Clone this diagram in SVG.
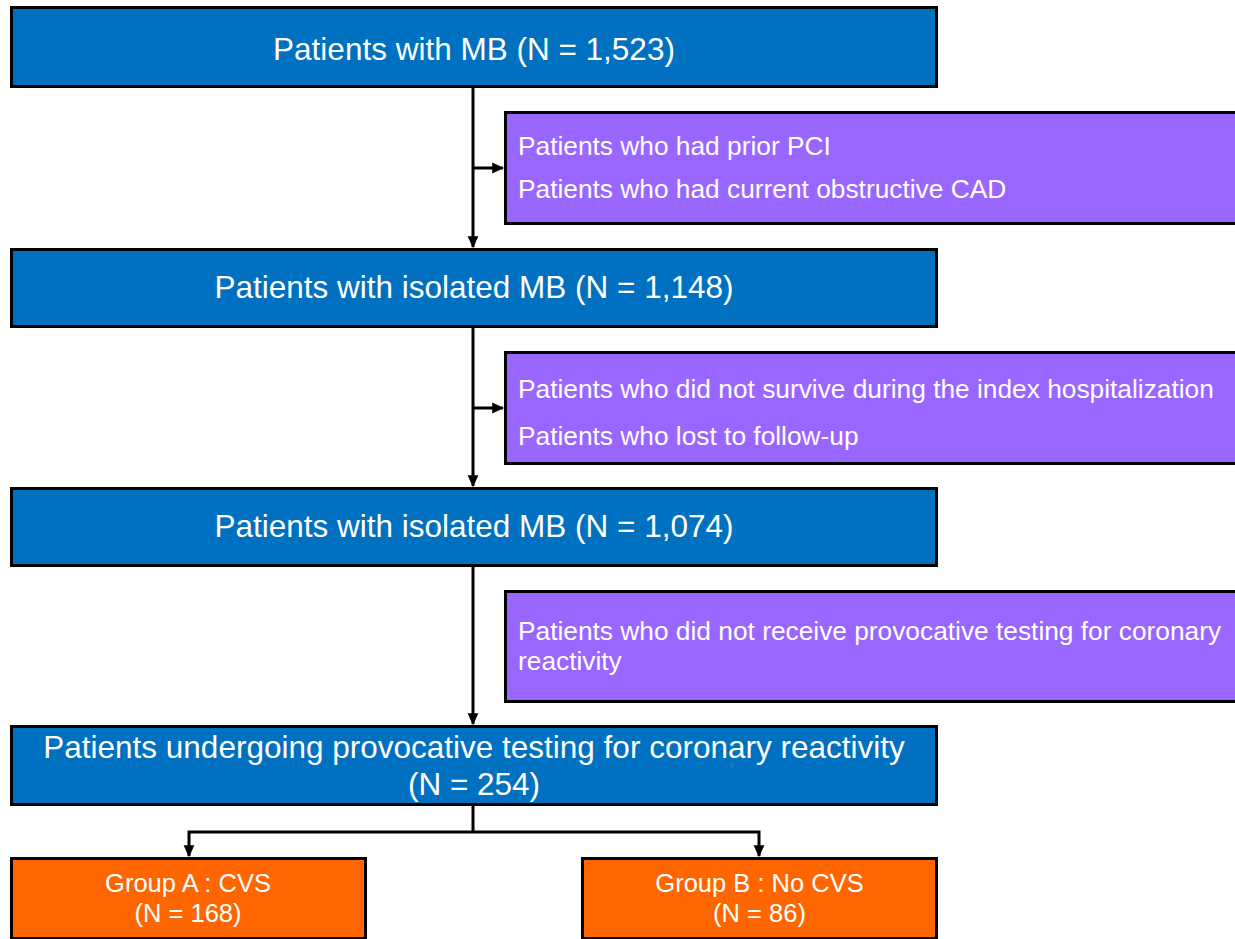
<svg xmlns="http://www.w3.org/2000/svg" width="1235" height="939" viewBox="0 0 1235 939">
<defs>
<style>
.blue{fill:#0070C0;stroke:#000;stroke-width:3}
.purple{fill:#9966FF;stroke:#000;stroke-width:3}
.orange{fill:#FF6600;stroke:#000;stroke-width:3}
.main{font-family:"Liberation Sans",Arial,sans-serif;font-size:31.5px;fill:#fff;text-anchor:middle}
.side{font-family:"Liberation Sans",Arial,sans-serif;font-size:26.3px;fill:#fff}
.grp{font-family:"Liberation Sans",Arial,sans-serif;font-size:25.5px;fill:#fff;text-anchor:middle}
.conn{fill:none;stroke:#000;stroke-width:3}
</style>
<marker id="arr" viewBox="0 0 10 10" refX="9" refY="5" markerWidth="12" markerHeight="12" markerUnits="userSpaceOnUse" orient="auto">
<path d="M0,0.5 L10,5 L0,9.5 Z" fill="#000"/>
</marker>
</defs>
<rect width="1235" height="939" fill="#fff"/>
<g id="connectors">
<line class="conn" x1="473" y1="88" x2="473" y2="247" marker-end="url(#arr)"/>
<line class="conn" x1="473" y1="168" x2="503" y2="168" marker-end="url(#arr)"/>
<line class="conn" x1="473" y1="328" x2="473" y2="486" marker-end="url(#arr)"/>
<line class="conn" x1="473" y1="408" x2="503" y2="408" marker-end="url(#arr)"/>
<line class="conn" x1="473" y1="567" x2="473" y2="724" marker-end="url(#arr)"/>
<line class="conn" x1="473" y1="806" x2="473" y2="832"/>
<polyline class="conn" points="473,832 189,832 189,856" marker-end="url(#arr)"/>
<polyline class="conn" points="473,832 759,832 759,856" marker-end="url(#arr)"/>
</g>
<g id="n1">
<rect class="blue" x="11.5" y="7.5" width="925" height="79"/>
<text class="main" x="474" y="60">Patients with MB (N = 1,523)</text>
</g>
<g id="x1">
<rect class="purple" x="505.5" y="112.5" width="740" height="111"/>
<text class="side" x="518" y="155">Patients who had prior PCI</text>
<text class="side" x="518" y="198">Patients who had current obstructive CAD</text>
</g>
<g id="n2">
<rect class="blue" x="11.5" y="249.5" width="925" height="77"/>
<text class="main" x="474" y="298">Patients with isolated MB (N = 1,148)</text>
</g>
<g id="x2">
<rect class="purple" x="505.5" y="352.5" width="740" height="111"/>
<text class="side" x="518" y="398">Patients who did not survive during the index hospitalization</text>
<text class="side" x="518" y="445">Patients who lost to follow-up</text>
</g>
<g id="n3">
<rect class="blue" x="11.5" y="488.5" width="925" height="77"/>
<text class="main" x="474" y="537">Patients with isolated MB (N = 1,074)</text>
</g>
<g id="x3">
<rect class="purple" x="505.5" y="591.5" width="740" height="110"/>
<text class="side" x="518" y="640">Patients who did not receive provocative testing for coronary</text>
<text class="side" x="518" y="670">reactivity</text>
</g>
<g id="n4">
<rect class="blue" x="11.5" y="726.5" width="925" height="78"/>
<text class="main" x="474" y="758">Patients undergoing provocative testing for coronary reactivity</text>
<text class="main" x="474" y="795">(N = 254)</text>
</g>
<g id="gA">
<rect class="orange" x="11.5" y="858.5" width="354" height="80"/>
<text class="grp" x="188" y="892">Group A : CVS</text>
<text class="grp" x="188" y="922">(N = 168)</text>
</g>
<g id="gB">
<rect class="orange" x="582.5" y="858.5" width="354" height="80"/>
<text class="grp" x="759.5" y="892">Group B : No CVS</text>
<text class="grp" x="759.5" y="922">(N = 86)</text>
</g>
</svg>
